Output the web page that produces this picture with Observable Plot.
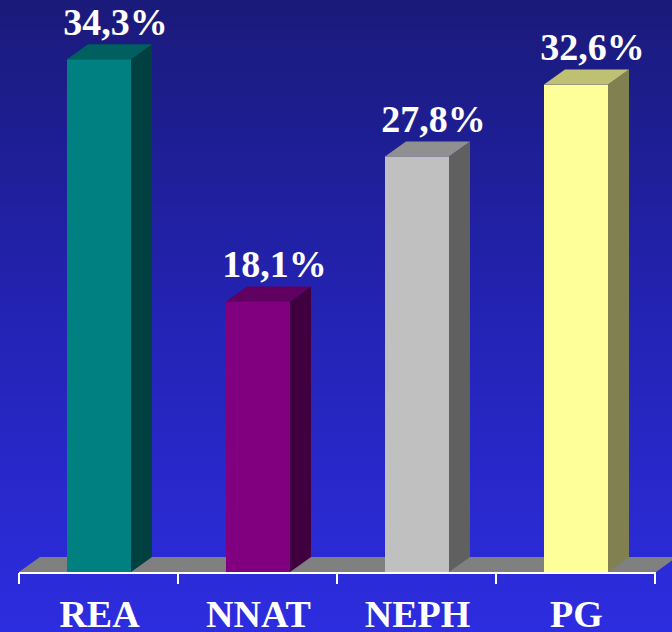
<!DOCTYPE html>
<html><head><meta charset="utf-8">
<script src="https://cdn.jsdelivr.net/npm/d3@7"></script>
<script src="https://cdn.jsdelivr.net/npm/@observablehq/plot@0.6"></script>
<style>
html,body{margin:0;padding:0;background:#2323b0;overflow:hidden}
#chart svg{display:block}
</style></head><body><div id="chart"></div>
<script>
const categories = ["REA", "NNAT", "NEPH", "PG"];
const values = [34.3, 18.1, 27.8, 32.6];
const valueLabels = ["34,3%", "18,1%", "27,8%", "32,6%"];
const frontColors = ["#008080", "#800080", "#C0C0C0", "#FFFF99"];
const topColors = ["#006060", "#600060", "#909090", "#C0C072"];
const sideColors = ["#004040", "#400040", "#606060", "#808050"];

const data = categories.map((c, i) => ({cat: c, value: values[i], label: valueLabels[i],
  front: frontColors[i], top: topColors[i], side: sideColors[i]}));

const DX = 21, DY = 15; // 3D depth offset in pixels

const floorMark = (index, scales) => {
  const {x, y} = scales;
  const [r0, r1] = x.range();
  const y0 = y(0);
  const g = d3.create("svg:g");
  g.append("path")
    .attr("d", `M${r0},${y0}L${r0 + DX},${y0 - DY}L${r1 + DX},${y0 - DY}L${r1},${y0}Z`)
    .attr("fill", "#808080");
  return g.node();
};

const facesMark = (index, scales) => {
  const {x, y} = scales;
  const bw = x.bandwidth();
  const g = d3.create("svg:g");
  data.forEach(d => {
    const x0 = x(d.cat), x1 = x0 + bw, yt = y(d.value), yb = y(0);
    g.append("path")
      .attr("d", `M${x1},${yb}L${x1 + DX},${yb - DY}L${x1 + DX},${yt - DY}L${x1},${yt}Z`)
      .attr("fill", d.side);
    g.append("path")
      .attr("d", `M${x0},${yt}L${x0 + DX},${yt - DY}L${x1 + DX},${yt - DY}L${x1},${yt}Z`)
      .attr("fill", d.top);
  });
  return g.node();
};

const axisMark = (index, scales) => {
  const {x, y} = scales;
  const [r0, r1] = x.range();
  const step = x.step();
  const y0 = y(0) + 1;
  const g = d3.create("svg:g").attr("stroke", "white").attr("stroke-width", 2);
  g.append("line").attr("x1", r0).attr("x2", r1).attr("y1", y0).attr("y2", y0);
  for (let i = 0; i <= categories.length; i++) {
    const xx = r0 + i * step;
    g.append("line").attr("x1", xx).attr("x2", xx).attr("y1", y0).attr("y2", y0 + 11);
  }
  return g.node();
};

const font = "'Liberation Serif', 'Times New Roman', serif";

const chart = Plot.plot({
  width: 672,
  height: 632,
  marginTop: 0,
  marginBottom: 60,
  marginLeft: 19,
  marginRight: 16,
  x: {type: "band", domain: categories, paddingInner: 0.6, paddingOuter: 0.3, axis: null},
  y: {domain: [0, 38.26], axis: null},
  style: {background: "linear-gradient(to bottom, #1a1a7a 0%, #2323b4 50%, #2d2de0 100%)", overflow: "visible"},
  marks: [
    floorMark,
    Plot.barY(data, {x: "cat", y: "value", fill: d => d.front}),
    facesMark,
    axisMark,
    Plot.text(data, {x: "cat", y: "value", text: "label", dx: 16, dy: -25, lineAnchor: "bottom",
      fill: "white", fontSize: 38, fontWeight: "bold", fontFamily: font}),
    Plot.text(data, {x: "cat", y: d => 0, text: "cat", dy: 54, lineAnchor: "bottom",
      fill: "white", fontSize: 38, fontWeight: "bold", fontFamily: font})
  ]
});
document.getElementById("chart").appendChild(chart);
</script>
</body></html>
